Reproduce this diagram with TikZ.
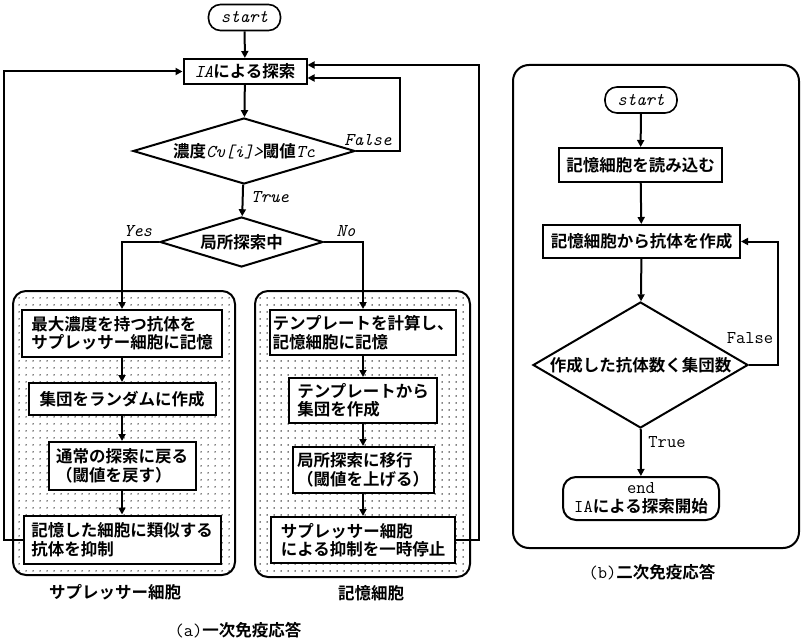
\documentclass[tikz,border=0pt]{standalone}
\usepackage{fontspec}
\setmainfont{Noto Sans CJK JP}[BoldFont={Noto Sans CJK JP Bold}]
\usetikzlibrary{shapes.geometric,arrows.meta,patterns.meta}
\newcommand{\tti}[1]{{\fontsize{18}{18}\selectfont\ttfamily\mdseries\itshape #1}}
\newcommand{\ttu}[1]{{\fontsize{18}{18}\selectfont\ttfamily\mdseries\upshape #1}}
\tikzset{
  box/.style={draw, line width=2pt, fill=white, inner sep=0pt, align=left},
  pill/.style={draw, line width=1.6pt, fill=white, inner sep=0pt, rounded corners=12pt},
  dia/.style={draw, diamond, line width=2pt, fill=white, inner sep=0pt},
  arr/.style={line width=2pt, -{Triangle[length=7pt,width=7pt]}},
  group/.style={draw, line width=2pt, rounded corners=13pt, inner sep=0pt,
    pattern={Dots[distance=6.5pt,radius=0.8pt]}},
  frame/.style={draw, line width=2pt, rounded corners=16pt, inner sep=0pt},
  lbl/.style={inner sep=0pt}
}
\begin{document}
\begin{tikzpicture}[x=1pt,y=-1pt,font=\fontsize{16.5}{18.5}\selectfont\bfseries]
\useasboundingbox (0,0) rectangle (803,642);
% ---------- (a) ----------
\node[group, minimum width=222, minimum height=284] (gl) at (124,433) {};
\node[group, minimum width=215, minimum height=286] (gr) at (362.5,434) {};
\node[lbl] (gllab) at (115,592) {サプレッサー細胞};
\node[lbl] (grlab) at (371,593) {記憶細胞};

\node[pill, minimum width=72, minimum height=26] (start) at (244.5,17.5) {\tti{start}};
\node[box, minimum width=123, minimum height=25] (ia) at (245,71.5) {\tti{IA}による探索};
\node[dia, minimum width=222, minimum height=66] (d1) at (244,151)
  {\makebox[0pt]{濃度\tti{Cv[i]>}閾値\tti{Tc}}};
\node[dia, minimum width=163, minimum height=50] (d2) at (241.5,242)
  {\makebox[0pt]{局所探索中}};

\node[box, minimum width=200, minimum height=47] (L1) at (122,333.5)
  {最大濃度を持つ抗体を\\サプレッサー細胞に記憶};
\node[box, minimum width=187, minimum height=32] (L2) at (122,399) {集団をランダムに作成};
\node[box, minimum width=147, minimum height=48] (L3) at (122,466)
  {通常の探索に戻る\\（閾値を戻す）};
\node[box, minimum width=197, minimum height=48] (L4) at (122,539.5)
  {記憶した細胞に類似する\\抗体を抑制};

\node[box, minimum width=186, minimum height=45] (R1) at (363,332.5)
  {テンプレートを計算し、\\記憶細胞に記憶};
\node[box, minimum width=148, minimum height=45] (R2) at (363,400.5)
  {テンプレートから\\集団を作成};
\node[box, minimum width=141, minimum height=46] (R3) at (363,470)
  {局所探索に移行\\（閾値を上げる）};
\node[box, minimum width=184, minimum height=46] (R4) at (363,540)
  {サプレッサー細胞\\による抑制を一時停止};

\draw[arr] (start) -- (ia);
\draw[arr] (ia) -- (d1);
\draw[arr] (d1.east) -- ++(44,0) |- ([yshift=-6.5pt]ia.east);
\node[lbl] (lfalse) at (368,140) {\tti{False}};
\draw[arr] (d1) -- (d2);
\node[lbl] (ltrue) at (270,197) {\tti{True}};
\draw[arr] (d2.west) -| (L1.north);
\draw[arr] (d2.east) -| (R1.north);
\node[lbl] (lyes) at (138,231) {\tti{Yes}};
\node[lbl] (lno) at (346,231) {\tti{No}};
\draw[arr] (L1) -- (L2);
\draw[arr] (L2) -- (L3);
\draw[arr] (L3) -- (L4);
\draw[arr] (R1) -- (R2);
\draw[arr] (R2) -- (R3);
\draw[arr] (R3) -- (R4);
\draw[arr] (L4.west) -- ++(-19,0) |- (ia.west);
\draw[arr] (R4.east) -- ++(23,0) |- ([yshift=6.5pt]ia.east);

\node[lbl] (capa) at (238,630) {\ttu{(a)}一次免疫応答};

% ---------- (b) ----------
\node[frame, minimum width=286, minimum height=483] (fb) at (656,306.5) {};
\node[pill, minimum width=72, minimum height=26] (s2) at (641,100) {\tti{start}};
\node[box, minimum width=163, minimum height=34] (B1) at (640.5,165) {記憶細胞を読み込む};
\node[box, minimum width=197, minimum height=33] (B2) at (641.5,241.5) {記憶細胞から抗体を作成};
\node[dia, minimum width=215, minimum height=126] (D3) at (640.5,365)
  {\makebox[0pt]{作成した抗体数く集団数}};
\node[box, rounded corners=13pt, align=center, minimum width=156, minimum height=43] (E) at (641,498.5)
  {\ttu{end}\\[1pt]\ttu{IA}による探索開始};
\draw[arr] (s2) -- (B1);
\draw[arr] (B1) -- (B2);
\draw[arr] (B2) -- (D3);
\draw[arr] (D3) -- (E);
\draw[arr] (D3.east) -- ++(29,0) |- (B2.east);
\node[lbl] (lf2) at (750,338) {\ttu{False}};
\node[lbl] (lt2) at (667,442) {\ttu{True}};
\node[lbl] (capb) at (652,572) {\ttu{(b)}二次免疫応答};
\end{tikzpicture}
\end{document}
